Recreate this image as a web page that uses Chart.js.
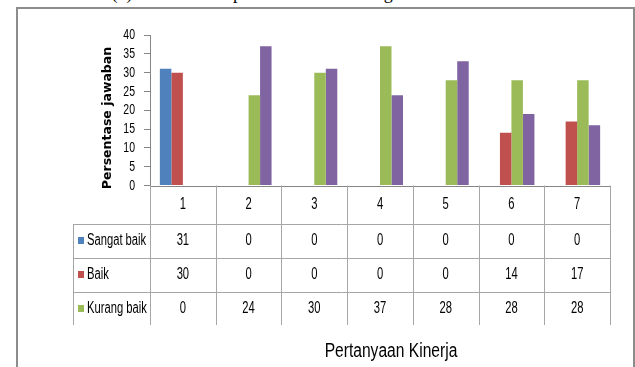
<!DOCTYPE html>
<html>
<head>
<meta charset="utf-8">
<script src="https://cdn.jsdelivr.net/npm/chart.js"></script>
<style>
  html, body { margin: 0; padding: 0; background: #fff; overflow: hidden; }
  body { width: 635px; height: 367px; position: relative; }
  #topText { position: absolute; left: 40px; top: -17px; font: 18px "Liberation Serif", serif; white-space: nowrap; color: #000; }
  #frame { position: absolute; left: 16px; top: 7px; width: 615px; height: 400px; border: 2px solid #8c8c8c; }
  #chart-bars { position: absolute; left: 0; top: 0; }
  #xTitle { position: absolute; left: 291px; width: 200px; top: 339px; text-align: center; font: 20px "Liberation Sans", sans-serif; color: #000; transform: scaleX(0.78); white-space: nowrap; }
</style>
</head>
<body>
<div id="topText">reference (3) which also represents the following data.</div>
<div id="frame"></div>
<canvas id="chart-bars" width="635" height="367"></canvas>
<div id="xTitle">Pertanyaan Kinerja</div>
<script>
// data
const categories = ['1', '2', '3', '4', '5', '6', '7'];
const sangatBaik = [31, 0, 0, 0, 0, 0, 0];
const baik = [30, 0, 0, 0, 0, 14, 17];
const kurangBaik = [0, 24, 30, 37, 28, 28, 28];
const tidakBaik = [0, 37, 31, 24, 33, 19, 16];
const seriesNames = ['Sangat baik', 'Baik', 'Kurang baik', 'Tidak baik'];
const yTicks = [0, 5, 10, 15, 20, 25, 30, 35, 40];
const yTitle = 'Persentase jawaban';

const colors = ['#4F81BD', '#C0504D', '#9BBB59', '#8064A2'];
const series = [sangatBaik, baik, kurangBaik, tidakBaik];

// table under the plot (only first 3 rows visible in the picture)
const tableRows = 3;
const rowTops = [224, 258, 292];
const rowBottom = 325;
const tableLeft = 73;
const squeeze = 0.7;

// draw text narrower, like the Calibri of the original
function narrowText(ctx, text, x, y, align) {
    ctx.save();
    ctx.translate(x, y);
    ctx.scale(squeeze, 1);
    ctx.textAlign = align;
    ctx.fillText(text, 0, 0);
    ctx.restore();
}

const dataTable = {
    id: 'dataTable',
    afterDraw(chart) {
        const ctx = chart.ctx;
        const area = chart.chartArea;
        const x = chart.scales.x;
        const y = chart.scales.y;
        const n = categories.length;
        const catW = (area.right - area.left) / n;
        ctx.save();
        // axis line
        ctx.strokeStyle = '#868686';
        ctx.lineWidth = 1;
        ctx.beginPath();
        ctx.moveTo(area.left, Math.round(area.bottom) + 0.5);
        ctx.lineTo(area.right, Math.round(area.bottom) + 0.5);
        ctx.stroke();
        // grid of table
        ctx.strokeStyle = '#a6a6a6';
        ctx.beginPath();
        for (let i = 0; i <= n; i++) {
            const px = Math.round(area.left + i * catW) + 0.5;
            ctx.moveTo(px, area.bottom);
            ctx.lineTo(px, rowBottom);
        }
        rowTops.forEach(ry => {
            ctx.moveTo(tableLeft, ry + 0.5);
            ctx.lineTo(area.right, ry + 0.5);
        });
        ctx.moveTo(tableLeft + 0.5, rowTops[0]);
        ctx.lineTo(tableLeft + 0.5, rowBottom);
        ctx.stroke();
        ctx.fillStyle = '#000';
        ctx.textBaseline = 'middle';
        // y tick labels
        ctx.font = '15px "Liberation Sans", sans-serif';
        y.ticks.forEach(t => {
            narrowText(ctx, String(t.value), 135, y.getPixelForValue(t.value), 'right');
        });
        // header numbers
        ctx.font = '16px "Liberation Sans", sans-serif';
        const headY = (area.bottom + rowTops[0]) / 2;
        categories.forEach((c, i) => {
            narrowText(ctx, c, x.getPixelForValue(i), headY, 'center');
        });
        // rows
        for (let r = 0; r < tableRows; r++) {
            const top = rowTops[r];
            const bot = r + 1 < rowTops.length ? rowTops[r + 1] : rowBottom;
            const cy = (top + bot) / 2;
            ctx.fillStyle = colors[r];
            ctx.fillRect(78, Math.round(cy) - 4, 6, 7);
            ctx.fillStyle = '#000';
            narrowText(ctx, seriesNames[r], 87, cy, 'left');
            series[r].forEach((v, i) => {
                narrowText(ctx, String(v), x.getPixelForValue(i), cy, 'center');
            });
        }
        // y axis title
        ctx.translate(108, 118);
        ctx.rotate(-Math.PI / 2);
        ctx.font = 'bold 12.5px "DejaVu Sans", sans-serif';
        ctx.textAlign = 'center';
        ctx.fillText(yTitle, 0, 0);
        ctx.restore();
    }
};

// config
const config = {
    type: 'bar',
    data: {
        labels: categories,
        datasets: seriesNames.map((name, i) => ({
            label: name,
            data: series[i],
            backgroundColor: colors[i],
            borderWidth: 0,
            categoryPercentage: 0.7,
            barPercentage: 1.0
        }))
    },
    options: {
        responsive: false,
        animation: false,
        layout: { padding: { left: 0, top: 35, right: 25, bottom: 181.5 } },
        plugins: { legend: { display: false }, tooltip: { enabled: false } },
        scales: {
            x: { display: false },
            y: {
                min: 0,
                max: 40,
                afterBuildTicks: s => { s.ticks = yTicks.map(v => ({ value: v })); },
                afterFit: s => { s.width = 150; },
                ticks: { display: false },
                grid: { drawOnChartArea: false, tickLength: 6, color: '#868686' },
                border: { color: '#868686' }
            }
        }
    },
    plugins: [dataTable]
};

// render init block
const myChart = new Chart(document.getElementById('chart-bars'), config);
</script>
</body>
</html>
